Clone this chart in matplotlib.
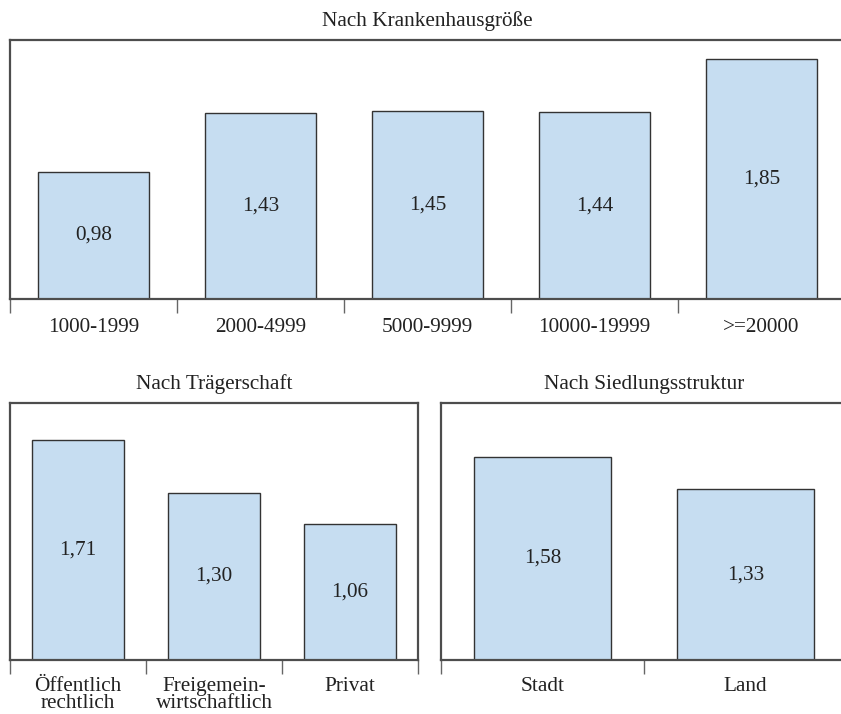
import numpy as np
import matplotlib.pyplot as plt

plt.rcParams['font.family'] = ['Liberation Serif', 'DejaVu Serif']

size_title = 'Nach Krankenhausgröße'
size_cats = ['1000-1999', '2000-4999', '5000-9999', '10000-19999', '>=20000']
size_vals = [0.98, 1.43, 1.45, 1.44, 1.85]

traeger_title = 'Nach Trägerschaft'
traeger_cats = ['Öffentlich\nrechtlich', 'Freigemein-\nwirtschaftlich', 'Privat']
traeger_vals = [1.71, 1.30, 1.06]

siedlung_title = 'Nach Siedlungsstruktur'
siedlung_cats = ['Stadt', 'Land']
siedlung_vals = [1.58, 1.33]

bar_color = '#c6ddf1'
edge_color = '#333333'
spine_color = '#4d4d4d'
fs = 15.3

W, H = 841, 714
fig = plt.figure(figsize=(W / 100, H / 100), dpi=100)


def px_axes(x0, x1, y0, y1):
    # pixel box (top-left origin) -> figure fraction
    return fig.add_axes([x0 / W, (H - y1) / H, (x1 - x0) / W, (y1 - y0) / H])


def draw(ax, cats, vals, title, pad=14):
    n = len(cats)
    x = np.arange(n)
    ax.bar(x, vals, width=0.67, color=bar_color, edgecolor=edge_color, linewidth=1.0)
    for xi, v in zip(x, vals):
        ax.text(xi, v / 2, f'{v:.2f}'.replace('.', ','), ha='center', va='center',
                fontsize=fs, color='#222222')
    ax.set_xlim(-0.5, n - 0.5)
    ax.set_ylim(0, 2.0)
    ax.set_yticks([])
    ax.set_xticks(x)
    ax.set_xticklabels(cats, fontsize=fs, linespacing=0.88, color='#222222')
    ax.set_xticks(np.arange(n + 1) - 0.5, minor=True)
    ax.tick_params(axis='x', which='major', length=0, pad=pad)
    ax.tick_params(axis='x', which='minor', length=10, width=1.0, color='#666666', direction='out')
    for s in ax.spines.values():
        s.set_color(spine_color)
        s.set_linewidth(1.6)
    ax.set_title(title, fontsize=fs, pad=10, color='#222222')


ax1 = px_axes(10, 845, 39.5, 299)
draw(ax1, size_cats, size_vals, size_title)

ax2 = px_axes(10, 418, 403, 660)
draw(ax2, traeger_cats, traeger_vals, traeger_title, pad=12)

ax3 = px_axes(441, 847, 403, 660)
draw(ax3, siedlung_cats, siedlung_vals, siedlung_title, pad=12)

fig.savefig('out.png', dpi=100)
